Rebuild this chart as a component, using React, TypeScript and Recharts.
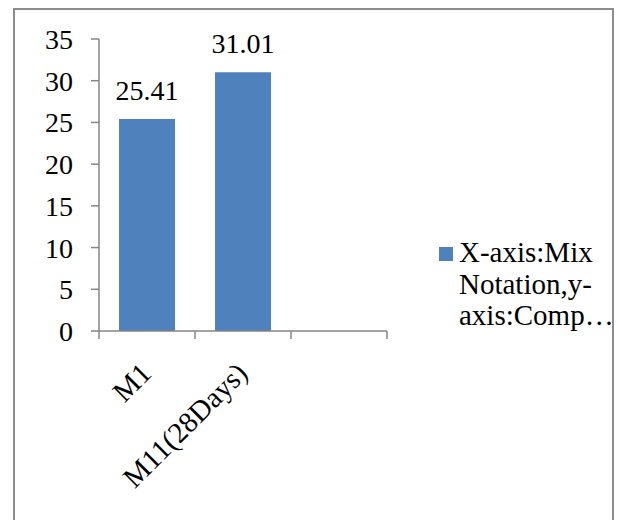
import React from "react";
import { BarChart, Bar, XAxis, YAxis, LabelList, Legend } from "recharts";

const categories = ["M1", "M11(28Days)", ""];
const strengthValues: (number | null)[] = [25.41, 31.01, null];
const yTicks = [0, 5, 10, 15, 20, 25, 30, 35];
const seriesName = "X-axis:Mix Notation,y-axis:Comp…";
const legendLines = ["X-axis:Mix", "Notation,y-", "axis:Comp…"];

const data = categories.map((c, i) => ({ name: c, value: strengthValues[i] }));

const FONT = '"Liberation Serif", "Times New Roman", serif';
const AXIS = "#868686";
const BLUE = "#4f81bd";

const PLOT_LEFT = 99;
const PLOT_RIGHT = 387;
const PLOT_TOP = 39;
const PLOT_BOTTOM = 331;
const W = 618;
const H = 520;
const Y_W = 80;
const X_H = 100;
const HALF = (PLOT_RIGHT - PLOT_LEFT) / categories.length / 2;

const XTick = (props: any) => {
  const { x, y, payload, index } = props;
  const tx = x + 6;
  const ty = y + 44;
  return (
    <g>
      <line x1={x - HALF} x2={x - HALF} y1={y} y2={y + 8} stroke={AXIS} strokeWidth={1.5} />
      {index === categories.length - 1 && (
        <line x1={x + HALF} x2={x + HALF} y1={y} y2={y + 8} stroke={AXIS} strokeWidth={1.5} />
      )}
      <text
        x={tx}
        y={ty}
        textAnchor="end"
        fontFamily={FONT}
        fontSize={29}
        fill="#000"
        transform={`rotate(-45, ${tx}, ${ty})`}
      >
        {payload.value}
      </text>
    </g>
  );
};

const LegendContent = () => (
  <div style={{ position: "relative", width: 175, fontFamily: FONT, fontSize: 29, color: "#000" }}>
    <div style={{ position: "absolute", left: 0, top: 9, width: 14, height: 14, background: BLUE }} />
    <div style={{ position: "absolute", left: 20, top: -1, lineHeight: "31.5px", whiteSpace: "nowrap" }}>
      {legendLines.map((l, i) => (
        <div key={i}>{l}</div>
      ))}
    </div>
  </div>
);

export default function App() {
  return (
    <div style={{ position: "absolute", left: 0, top: 0, width: W, height: H, background: "#fff", overflow: "hidden" }}>
      <div
        style={{
          position: "absolute",
          left: 13,
          top: 8,
          width: 614 - 13 - 4,
          height: H,
          border: "2px solid #8c8c8c",
          borderBottom: "none",
        }}
      />
      <div style={{ position: "absolute", left: 0, top: 0 }}>
        <BarChart
          width={W}
          height={H}
          data={data}
          margin={{ top: PLOT_TOP, right: W - PLOT_RIGHT, bottom: H - PLOT_BOTTOM - X_H, left: PLOT_LEFT - Y_W }}
          barCategoryGap={20}
        >
          <XAxis
            dataKey="name"
            height={X_H}
            interval={0}
            tickLine={false}
            tickSize={0}
            tickMargin={0}
            axisLine={{ stroke: AXIS, strokeWidth: 1.5 }}
            tick={<XTick />}
          />
          <YAxis
            width={Y_W}
            domain={[0, 35]}
            ticks={yTicks}
            interval={0}
            tickSize={8}
            tickMargin={18}
            axisLine={{ stroke: AXIS, strokeWidth: 1.5 }}
            tickLine={{ stroke: AXIS, strokeWidth: 1.5 }}
            tick={{ fontFamily: FONT, fontSize: 28, fill: "#000" }}
          />
          <Legend
            layout="vertical"
            align="center"
            verticalAlign="middle"
            content={<LegendContent />}
            wrapperStyle={{ position: "absolute", left: 439, top: 238, width: 178, height: 100 }}
          />
          <Bar dataKey="value" name={seriesName} fill={BLUE} isAnimationActive={false}>
            <LabelList
              dataKey="value"
              position="top"
              offset={19}
              fill="#000"
              fontFamily={FONT}
              fontSize={28}
            />
          </Bar>
        </BarChart>
      </div>
    </div>
  );
}
